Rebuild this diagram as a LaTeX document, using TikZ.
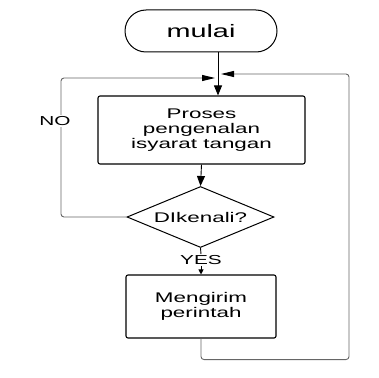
\documentclass[tikz,border=0pt]{standalone}
\usepackage{fontspec}
\newfontfamily\lebar{Liberation Sans}[FakeStretch=1.6]
\usepackage{tikz}
\usetikzlibrary{shapes.geometric}
\usetikzlibrary{arrows.meta}

\tikzset{
  kotak/.style={draw, line width=1.1pt, rounded corners=2pt, align=center,
    font=\lebar\fontsize{14}{15}\selectfont},
  label teks/.style={fill=white, inner sep=1pt, font=\lebar\fontsize{13}{13}\selectfont},
  panah/.style={line width=0.9pt, -{Triangle[length=10pt,width=8pt]}},
  balik/.style={draw=black!60, line width=0.9pt, rounded corners=3pt,
    -{Triangle[length=13pt,width=6pt,color=black]}}
}

\begin{document}
\begin{tikzpicture}[x=1pt,y=-1pt]
    \useasboundingbox (0,0) rectangle (379,377);
    
    \node[draw, line width=1pt, rounded corners=21pt, minimum width=152pt, minimum height=42pt,
      font=\lebar\fontsize{18}{20}\selectfont] (mulai) at (201,31) {mulai};% terminal
    
    \node[kotak, minimum width=207pt, minimum height=68pt] (proses) at (201.5,130)
      {Proses\\pengenalan\\isyarat tangan};% proses
    
    \node[draw, diamond, line width=1pt, aspect=2.4, minimum width=147pt, minimum height=61pt,
      inner sep=0pt, font=\lebar\fontsize{14}{15}\selectfont] (kenal) at (200.5,217) {DIkenali?};% keputusan
    
    \node[label teks] (yes) at (201,260) {YES};
    
    \node[kotak, minimum width=150pt, minimum height=63pt] (kirim) at (201,306.5)
      {Mengirim\\perintah};% kirim
    
    \coordinate (masuk) at (218,78);% titik gabung
    \coordinate (ujungkiri) at (215,78);
    \coordinate (ujungkanan) at (221,74);
    
    \draw[panah] (mulai.south -| masuk) -- (proses.north -| masuk);
    \draw[panah] (proses.south) -- (kenal.north);
    \draw[line width=0.9pt] (kenal.south) -- (yes.north);
    \draw[line width=0.9pt, -{Triangle[length=5pt,width=5pt]}] (yes.south) -- (kirim.north);
    
    \draw[balik] (kenal.west) -- (61,217) -- (61,78) -- (ujungkiri);% NO
    \node[label teks] (no) at (55,121) {NO};
    \draw[balik] (kirim.south) -- ++(0,21) -| (349,74) -- (ujungkanan);% kembali
    
\end{tikzpicture}
\end{document}
